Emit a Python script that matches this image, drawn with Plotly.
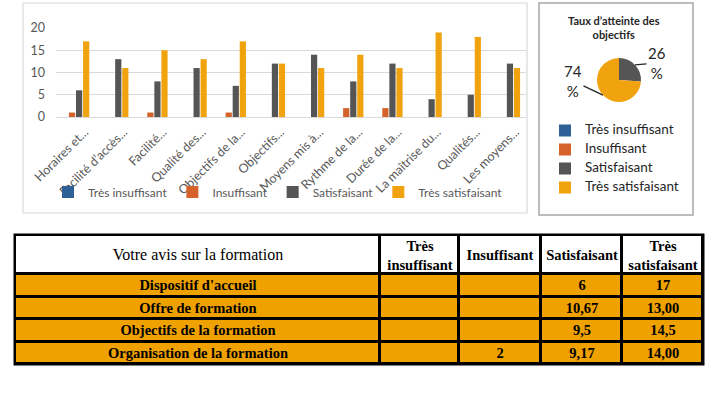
import math
import plotly.graph_objects as go

W, H = 719, 394

categories = ["Horaires et...", "Facilité d’accès...", "Facilité...", "Qualité des...",
              "Objectifs de la...", "Objectifs...", "Moyens mis à...", "Rythme de la...",
              "Durée de la...", "La maîtrise du...", "Qualités...", "Les moyens..."]
series_names = ["Très insuffisant", "Insuffisant", "Satisfaisant", "Très satisfaisant"]
tres_insuffisant = [0, 0, 0, 0, 0, 0, 0, 0, 0, 0, 0, 0]
insuffisant = [1, 0, 1, 0, 1, 0, 0, 2, 2, 0, 0, 0]
satisfaisant = [6, 13, 8, 11, 7, 12, 14, 8, 12, 4, 5, 12]
tres_satisfaisant = [17, 11, 15, 13, 17, 12, 11, 14, 11, 19, 18, 11]
y_ticks = [0, 5, 10, 15, 20]

pie_title = "Taux d’atteinte des<br>objectifs"
pie_values = [0, 0, 26, 74]

table_header = ["Votre avis sur la formation", "Très<br>insuffisant", "Insuffisant",
                "Satisfaisant", "Très<br>satisfaisant"]
table_rows = ["Dispositif d'accueil", "Offre de formation", "Objectifs de la formation",
              "Organisation de la formation"]
table_tres_insuffisant = ["", "", "", ""]
table_insuffisant = ["", "", "", "2"]
table_satisfaisant = ["6", "10,67", "9,5", "9,17"]
table_tres_satisfaisant = ["17", "13,00", "14,5", "14,00"]

colors = ["#2E6195", "#D4622A", "#555555", "#F0A30F"]
ORANGE_TABLE = "#EFA100"
FONT = "Lato"
SERIF = "Liberation Serif"

# table geometry (pixels)
col_widths = [365, 79, 82, 81, 81]
row_heights = [39, 22.5, 22.5, 22.5, 22.5]
TX0, TY0 = 15, 235


def px_x(v):
    return v / W


def px_y(v):
    return 1 - v / H


fig = go.Figure()

for name, vals, col in zip(series_names,
                           [tres_insuffisant, insuffisant, satisfaisant, tres_satisfaisant],
                           colors):
    fig.add_trace(go.Bar(x=categories, y=vals, name=name, marker_color=col,
                         marker_line_width=0, legend="legend"))

# Pie
pdx = [px_x(597), px_x(641)]
pdy = [px_y(102), px_y(58)]
pie_legend_names = [f'<span style="font-size:13.5px">{n}</span>' for n in series_names]
fig.add_trace(go.Pie(labels=pie_legend_names, values=pie_values, sort=False,
                     direction="clockwise", rotation=0, marker=dict(colors=colors),
                     textinfo="none", domain=dict(x=pdx, y=pdy), legend="legend2",
                     hoverinfo="percent"))

# Table drawn as a heatmap on its own axes (cell edges = column widths / row heights)
x_edges = [0]
for w in col_widths:
    x_edges.append(x_edges[-1] + w)
y_edges = [0]
for h in row_heights:
    y_edges.append(y_edges[-1] + h)

header_text = ['<span style="font-size:16px">' + table_header[0] + '</span>'] + \
              [f"<b>{h}</b>" for h in table_header[1:]]
body_cols = [table_rows, table_tres_insuffisant, table_insuffisant,
             table_satisfaisant, table_tres_satisfaisant]
text = [header_text]
z = [[0] * len(col_widths)]
for i in range(len(table_rows)):
    text.append([f"<b>{c[i]}</b>" if c[i] else "" for c in body_cols])
    z.append([1] * len(col_widths))

fig.add_trace(go.Heatmap(
    x=x_edges, y=y_edges, z=z, text=text, texttemplate="%{text}",
    textfont=dict(family=SERIF, size=14.5, color="black"),
    colorscale=[[0, "white"], [1, ORANGE_TABLE]], zmin=0, zmax=1, showscale=False,
    xgap=3, ygap=3, hoverinfo="skip", xaxis="x2", yaxis="y2"))

# Pie labels from data
total = sum(pie_values)
cx = (pdx[0] + pdx[1]) / 2
cy = (pdy[0] + pdy[1]) / 2
r_px = (641 - 597) / 2
cum = 0
annotations = []
offsets = {2: (22, -2), 3: (-30, -14)}
for i, v in enumerate(pie_values):
    if v > 0:
        mid = (cum + v / 2) / total * 2 * math.pi
        ex = cx + r_px * math.sin(mid) / W
        ey = cy + r_px * math.cos(mid) / H
        ox, oy = offsets.get(i, (20, -10))
        annotations.append(dict(x=ex, y=ey, xref="paper", yref="paper",
                                text=f"{round(100 * v / total)}<br>%", showarrow=True,
                                arrowhead=0, arrowwidth=1.3, arrowcolor="#262626",
                                ax=ox, ay=oy, font=dict(family=FONT, size=15, color="#262626"),
                                align="center"))
    cum += v

annotations.append(dict(x=px_x(614), y=px_y(27), xref="paper", yref="paper",
                        xanchor="center", yanchor="middle",
                        text=f"<b>{pie_title}</b>", showarrow=False,
                        font=dict(family=FONT, size=11, color="#262626"), align="center"))

TW = sum(col_widths)
TH = sum(row_heights)
shapes = [
    dict(type="rect", xref="paper", yref="paper", x0=px_x(23), x1=px_x(527), y0=px_y(213),
         y1=px_y(3), line=dict(color="#d9d9d9", width=1.2)),
    dict(type="rect", xref="paper", yref="paper", x0=px_x(539), x1=px_x(693), y0=px_y(215),
         y1=px_y(3), line=dict(color="#a6a6a6", width=1.5)),
    dict(type="rect", xref="paper", yref="paper", layer="below",
         x0=px_x(TX0 - 1.5), x1=px_x(TX0 + TW + 1.5), y0=px_y(TY0 + TH + 1.5), y1=px_y(TY0 - 1.5),
         fillcolor="black", line=dict(width=0)),
]

fig.update_layout(
    width=W, height=H, margin=dict(l=0, r=0, t=0, b=0, autoexpand=False),
    paper_bgcolor="white", plot_bgcolor="white",
    barmode="group", bargap=0.28, bargroupgap=0.12,
    font=dict(family=FONT, color="#595959"),
    xaxis=dict(domain=[px_x(56), px_x(526)], type="category", tickangle=-45,
               tickfont=dict(family=FONT, size=12.5, color="#595959"), automargin=False,
               ticklabelstandoff=2, ticklabelshift=9,
               showline=True, linecolor="#d9d9d9", linewidth=1, ticks="", showgrid=False),
    yaxis=dict(domain=[px_y(117), px_y(28)], range=[0, 20], tickvals=y_ticks,
               tickfont=dict(family=FONT, size=12.5, color="#595959"), automargin=False,
               showgrid=True, gridcolor="#d9d9d9", gridwidth=1, zeroline=False,
               showline=False, ticks="", ticklabelstandoff=10),
    xaxis2=dict(domain=[px_x(TX0), px_x(TX0 + TW)], range=[0, TW], anchor="y2",
                showticklabels=False, showgrid=False, zeroline=False, showline=False,
                ticks="", automargin=False, fixedrange=True),
    yaxis2=dict(domain=[px_y(TY0 + TH), px_y(TY0)], range=[TH, 0], anchor="x2",
                showticklabels=False, showgrid=False, zeroline=False, showline=False,
                ticks="", automargin=False, fixedrange=True),
    legend=dict(orientation="h", x=px_x(278), xanchor="center", y=px_y(192), yanchor="middle",
                font=dict(family=FONT, size=12, color="#595959"), itemwidth=30,
                bgcolor="rgba(0,0,0,0)", traceorder="normal"),
    legend2=dict(orientation="v", x=px_x(545), xanchor="left", y=px_y(116), yanchor="top",
                 font=dict(family=FONT, size=10, color="#262626"), itemwidth=30,
                 bgcolor="rgba(0,0,0,0)", traceorder="normal"),
    annotations=annotations, shapes=shapes, showlegend=True,
)

fig.write_html("out.html")
